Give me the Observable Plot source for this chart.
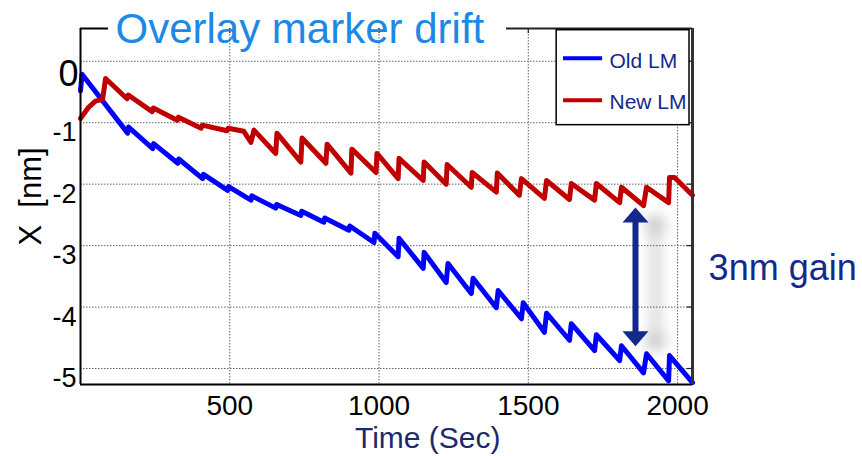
<!DOCTYPE html>
<html>
<head>
<meta charset="utf-8">
<script src="https://cdn.jsdelivr.net/npm/d3@7"></script>
<script src="https://cdn.jsdelivr.net/npm/@observablehq/plot@0.6"></script>
<style>
  html, body { margin: 0; padding: 0; background: white; }
  #chart { width: 862px; height: 456px; }
</style>
</head>
<body>
<div id="chart"></div>
<script>
// ---- data ----
const title = "Overlay marker drift";
const xLabel = "Time (Sec)";
const yLabel = "X  [nm]";
const seriesNames = ["Old LM", "New LM"];
const seriesColors = ["#0000ff", "#c00000"];

const oldTime = [0, 5, 158, 161, 242, 245, 326, 329, 409, 412, 493, 496, 571, 574, 654, 657, 738, 741, 815, 818, 899, 902, 983, 986, 1064, 1067, 1148, 1151, 1225, 1231, 1309, 1315, 1393, 1399, 1477, 1483, 1554, 1561, 1638, 1644, 1722, 1728, 1806, 1812, 1886, 1896, 1970, 1973, 2050];
const oldX = [-0.48, -0.21, -1.17, -1.07, -1.42, -1.34, -1.66, -1.59, -1.91, -1.84, -2.10, -2.04, -2.26, -2.19, -2.39, -2.33, -2.51, -2.44, -2.62, -2.55, -2.75, -2.68, -2.95, -2.80, -3.18, -2.88, -3.37, -3.11, -3.60, -3.29, -3.78, -3.53, -4.01, -3.73, -4.19, -3.93, -4.41, -4.10, -4.54, -4.27, -4.71, -4.45, -4.87, -4.63, -5.07, -4.76, -5.20, -4.79, -5.23];

const newTime = [0, 27, 50, 74, 84, 156, 160, 240, 244, 324, 328, 404, 408, 491, 495, 547, 571, 581, 654, 658, 738, 742, 822, 826, 906, 909, 990, 993, 1064, 1067, 1148, 1151, 1225, 1228, 1309, 1312, 1393, 1396, 1470, 1477, 1554, 1561, 1638, 1644, 1722, 1728, 1806, 1812, 1886, 1896, 1970, 1973, 1990, 2050];
const newX = [-0.93, -0.75, -0.65, -0.62, -0.28, -0.61, -0.55, -0.82, -0.76, -0.96, -0.91, -1.09, -1.04, -1.13, -1.09, -1.14, -1.32, -1.12, -1.50, -1.17, -1.64, -1.25, -1.66, -1.35, -1.82, -1.43, -1.81, -1.50, -1.91, -1.58, -1.94, -1.64, -2.00, -1.68, -2.05, -1.81, -2.13, -1.82, -2.18, -1.91, -2.23, -1.94, -2.25, -1.99, -2.26, -1.99, -2.30, -2.05, -2.35, -2.05, -2.30, -1.89, -1.89, -2.18];

const xTicks = [500, 1000, 1500, 2000];
const yTicks = [0, -1, -2, -3, -4, -5];
const gainLabel = "3nm gain";
const gainArrow = {x: 1859, top: -2.38, bottom: -4.64};

// ---- build tables ----
const oldRows = oldTime.map((t, i) => ({t, v: oldX[i]}));
const newRows = newTime.map((t, i) => ({t, v: newX[i]}));

const navy = "#15298c";
const font = "'Liberation Sans', Arial, sans-serif";
const xDomain = [0, 2050];
const yDomain = [-5.26, 0.533];
const plain = d => String(d);

const headShape = {
  draw(context, l) {
    context.moveTo(-13, 0);
    context.lineTo(13, 0);
    context.lineTo(0, -l);
    context.closePath();
  }
};
const shadow = "drop-shadow(20px 6px 7px rgba(0,0,0,0.28))";

const chart = Plot.plot({
  width: 862,
  height: 456,
  marginLeft: 80,
  marginRight: 170,
  marginTop: 28,
  marginBottom: 72,
  x: {domain: xDomain},
  y: {domain: yDomain},
  style: {fontFamily: font, background: "white", overflow: "visible"},
  marks: [
    // grid
    Plot.gridX(xTicks, {stroke: "#555", strokeOpacity: 0.9, strokeDasharray: "1.5,1.5", strokeWidth: 1}),
    Plot.gridY(yTicks, {stroke: "#555", strokeOpacity: 0.9, strokeDasharray: "1.5,1.5", strokeWidth: 1}),
    // series
    Plot.line(oldRows, {x: "t", y: "v", stroke: seriesColors[0], strokeWidth: 5, strokeLinejoin: "round", strokeLinecap: "round"}),
    Plot.line(newRows, {x: "t", y: "v", stroke: seriesColors[1], strokeWidth: 5, strokeLinejoin: "round", strokeLinecap: "round"}),
    // frame
    Plot.ruleX([xDomain[0]], {stroke: "black", strokeWidth: 2}),
    Plot.ruleY([yDomain[0]], {stroke: "black", strokeWidth: 2}),
    Plot.ruleX([xDomain[1]], {stroke: "#333", strokeWidth: 3}),
    Plot.ruleY([yDomain[1]], {x1: 0, x2: 94, stroke: "black", strokeWidth: 2}),
    Plot.ruleY([yDomain[1]], {x1: 1427, x2: 2050, stroke: "#222", strokeWidth: 2}),
    Plot.ruleY(yTicks, {x1: 2032, x2: 2050, stroke: "#222", strokeWidth: 1.2}),
    Plot.ruleX(xTicks, {y1: yDomain[1], y2: 0.45, stroke: "#222", strokeWidth: 1.2}),
    // legend
    Plot.rect([0], {x1: 1595, x2: 2040, y1: 0.505, y2: -1.04, fill: "white", stroke: "black", strokeWidth: 1.5}),
    Plot.ruleY([0.05], {x1: 1618, x2: 1749, stroke: seriesColors[0], strokeWidth: 4}),
    Plot.ruleY([-0.635], {x1: 1618, x2: 1749, stroke: seriesColors[1], strokeWidth: 4}),
    Plot.text([seriesNames[0]], {x: 1772, y: 0.0, text: d => d, fontSize: 21, fill: navy, textAnchor: "start"}),
    Plot.text([seriesNames[1]], {x: 1772, y: -0.67, text: d => d, fontSize: 21, fill: navy, textAnchor: "start"}),
    // axes
    Plot.axisX(xTicks, {tickSize: 0, tickPadding: 11, fontSize: 28, color: "black", label: null, tickFormat: plain}),
    Plot.axisY(yTicks.filter(d => d !== 0), {tickSize: 0, tickPadding: 4, fontSize: 27, dy: 10, color: "black", label: null, tickFormat: plain}),
    Plot.axisY([0], {tickSize: 0, tickPadding: 2, fontSize: 36, dy: 13, color: "black", label: null, tickFormat: plain}),
    Plot.text([yLabel], {x: -166, y: -2.2, text: d => d, rotate: -90, fontSize: 31, fill: "black", lineAnchor: "middle"}),
    Plot.text([xLabel], {x: 1163, frameAnchor: "bottom", dy: 54, lineAnchor: "middle", text: d => d, fontSize: 30, fill: "#1b2a6b"}),
    // title
    Plot.text([title], {frameAnchor: "top-left", dx: 35, dy: 1, lineAnchor: "middle", text: d => d, fontSize: 42, fill: "#1e88e5", textAnchor: "start"}),
    // gain arrow
    Plot.ruleX([gainArrow.x], {y1: gainArrow.top - 0.22, y2: gainArrow.bottom + 0.22, stroke: navy, strokeWidth: 6, imageFilter: shadow}),
    Plot.vector([{y: gainArrow.top - 0.245, r: 0}, {y: gainArrow.bottom + 0.245, r: 180}], {x: gainArrow.x, y: "y", rotate: "r", length: 15, anchor: "start", shape: headShape, fill: navy, stroke: "none", imageFilter: shadow}),
    Plot.text([gainLabel], {x: 2104, y: -3.37, text: d => d, fontSize: 36, fill: navy, textAnchor: "start"})
  ]
});
document.getElementById("chart").appendChild(chart);
</script>
</body>
</html>
